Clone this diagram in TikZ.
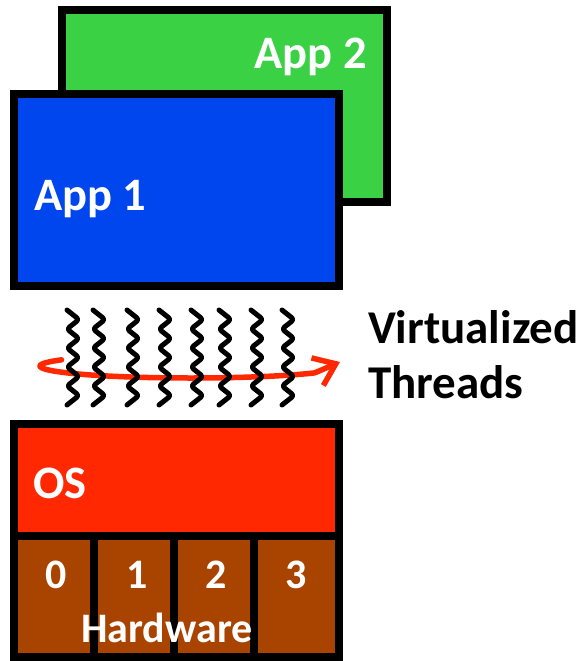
\documentclass[tikz,border=0pt]{standalone}
\usepackage{fontspec}
\setmainfont{Carlito}
\usetikzlibrary{arrows.meta}
\definecolor{appgreen}{RGB}{58,210,68}
\definecolor{appblue}{RGB}{0,70,238}
\definecolor{osred}{RGB}{255,40,0}
\definecolor{hwbrown}{RGB}{168,67,0}
\begin{document}
\begin{tikzpicture}[x=1pt,y=-1pt,
  block/.style={rectangle, draw=black, line width=8pt, inner sep=0pt, outer sep=0pt},
  lbl/.style={text=white, font=\bfseries\fontsize{46.5}{50}\selectfont, inner sep=0pt},
  hwlbl/.style={text=white, font=\bfseries\fontsize{42}{45}\selectfont, inner sep=0pt},
  sidelbl/.style={text=black, font=\bfseries\fontsize{47}{50}\selectfont, inner sep=0pt},
  thread/.style={black, line width=5pt, line cap=round, line join=round, rounded corners=3pt},
  spin/.style={osred, line width=5.5pt, line cap=round, line join=round}]
\useasboundingbox (0,0) rectangle (585,661);

% application windows
\node[block, fill=appgreen, minimum width=325pt, minimum height=192pt] (app2) at (224.5,106) {};
\node[lbl, anchor=base east] (app2txt) at (367,68) {App 2};
\node[block, fill=appblue, minimum width=325pt, minimum height=192pt] (app1) at (176.5,190) {};
\node[lbl, anchor=base west] (app1txt) at (34,210) {App 1};

% scheduler loop around the threads
\coordinate (loopend) at (340,362);
\draw[spin, -{Straight Barb[length=20pt,width=30pt]}]
  plot[domain=149:325, samples=80, smooth] ({191+151*cos(\x)},{366-12*sin(\x)})
  -- (loopend);

% threads: zigzags with rounded bends
\foreach \tx in {73,99,133,165,197,225,257,288}
  \draw[thread] (\tx-6,310)
    \foreach \k in {1,...,9} { -- ({\tx+6*(-1)^(\k+1)},{310+9.5*\k}) }
    -- (\tx-6,405);

\node[sidelbl, anchor=base west] (virt) at (368,343) {Virtualized};
\node[sidelbl, anchor=base west] (thr) at (368,398) {Threads};

% operating system
\node[block, fill=osred, minimum width=325pt, minimum height=112pt] (os) at (176.5,480) {};
\node[lbl, anchor=base west] (ostxt) at (33,498) {OS};

% hardware cores
\node[block, fill=hwbrown, minimum width=80pt, minimum height=121pt] (c0) at (54,596.5) {};
\node[block, fill=hwbrown, minimum width=80pt, minimum height=121pt] (c1) at (134,596.5) {};
\node[block, fill=hwbrown, minimum width=80pt, minimum height=121pt] (c2) at (214,596.5) {};
\node[block, fill=hwbrown, minimum width=85pt, minimum height=121pt] (c3) at (296.5,596.5) {};
\node[hwlbl, anchor=base] (d0) at (56,588) {0};
\node[hwlbl, anchor=base] (d1) at (137,588) {1};
\node[hwlbl, anchor=base] (d2) at (216,588) {2};
\node[hwlbl, anchor=base] (d3) at (296,588) {3};
\node[hwlbl, anchor=base] (hw) at (167,642) {Hardware};
\end{tikzpicture}
\end{document}
